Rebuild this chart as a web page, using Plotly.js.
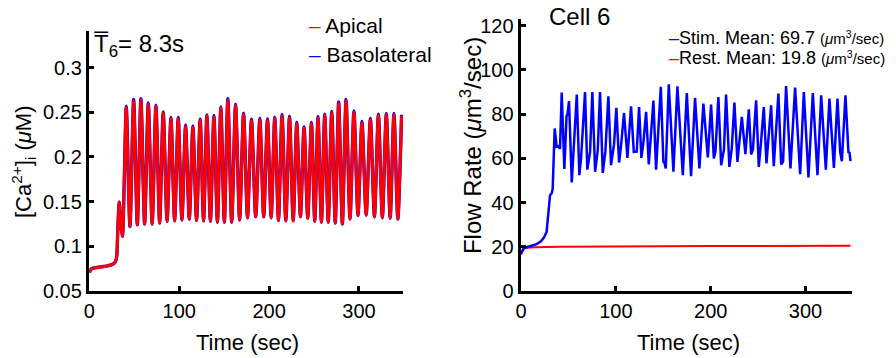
<!DOCTYPE html>
<html>
<head>
<meta charset="utf-8">
<script src="https://cdn.plot.ly/plotly-3.0.1.min.js"></script>
<style>html,body{margin:0;padding:0;background:#fff;}#chart{width:896px;height:358px;}</style>
</head>
<body>
<div id="chart"></div>
<script>
// ---------- Left panel: cytosolic Ca2+ (uM) ----------
var caStartTime = [0, 1.5, 4, 10, 20, 26, 29, 30.5, 31.7, 33.3, 35, 36.8, 38.8];
var caStartVal  = [0.0705, 0.074, 0.0755, 0.0765, 0.078, 0.080, 0.0825, 0.089, 0.12, 0.1495, 0.124, 0.111, 0.17];

var caPeakTime = [41.1, 49.3, 57.4, 65.6, 74.1, 82.2, 90.8, 98.9, 107.1, 115.2,
                  123.3, 130.8, 138.6, 146.3, 154.1, 162.7, 171.6, 180.4,
                  189.7, 198.2, 206.3, 214.4, 222.7, 230.8, 238.9, 247.1, 254.4, 261.9,
                  269.7, 277.4, 285.6, 294.4, 303.3, 312.7, 321.6, 330.4, 338.9, 347.4];
var apicalPeak = [0.2555, 0.263, 0.264, 0.2593, 0.2567, 0.2492, 0.2429, 0.2429, 0.2342, 0.2331,
                  0.241, 0.2458, 0.2451, 0.2548, 0.2638, 0.2578, 0.2477, 0.241,
                  0.2418, 0.2413, 0.2432, 0.2463, 0.2443, 0.2373, 0.2323, 0.2373, 0.244, 0.2466,
                  0.2496, 0.2604, 0.2631, 0.2503, 0.2384, 0.2418, 0.2466, 0.2474, 0.2474, 0.246];
var basoPeak   = [0.2568, 0.2643, 0.2653, 0.2606, 0.258, 0.2505, 0.2442, 0.2442, 0.2355, 0.2344,
                  0.2423, 0.2471, 0.2464, 0.2561, 0.2651, 0.2591, 0.249, 0.2423,
                  0.2431, 0.2426, 0.2445, 0.2476, 0.2456, 0.2386, 0.2336, 0.2386, 0.2453, 0.2479,
                  0.2509, 0.2617, 0.2644, 0.2516, 0.2397, 0.2431, 0.2479, 0.2487, 0.2487, 0.2473];
var caTroughTime = [45.2, 53.4, 61.5, 69.9, 78.2, 86.5, 94.9, 103.0, 111.2, 119.3,
                    127.1, 134.7, 142.5, 150.2, 158.4, 167.2, 176.0, 185.1, 194.0, 202.3,
                    210.4, 218.6, 226.8, 234.9, 243.0, 250.8, 258.2, 265.8, 273.6, 281.5,
                    290.0, 298.9, 308.0, 317.2, 326.0, 334.7, 343.2];
var caTroughVal  = [0.122, 0.124, 0.125, 0.125, 0.126, 0.128, 0.1285, 0.1295, 0.1305, 0.129,
                    0.1285, 0.128, 0.127, 0.127, 0.127, 0.1295, 0.132, 0.133, 0.133, 0.132,
                    0.129, 0.1285, 0.1285, 0.133, 0.1315, 0.128, 0.127, 0.127, 0.126, 0.125,
                    0.1305, 0.1345, 0.135, 0.133, 0.132, 0.1315, 0.1305];

// ---------- Right panel: flow rate (um^3/sec) ----------
var flowTime = [0, 2.5, 6, 10, 16.5, 21, 24, 27, 28.8, 30.6, 32.4, 33.4, 35.5, 37.6, 39.5, 41.1,
  42.9, 45.7, 48.0, 49.0, 50.6, 53.5, 58.8, 61.5, 63.3, 67.5, 69.9, 72.8, 75.2, 78.1, 80.9, 83.3,
  86.2, 88.9, 92.1, 94.9, 98.1, 100.5, 103.4, 105.5, 108.6, 112.2, 116.0, 118.9, 122.0, 124.5,
  126.9, 129.0, 131.9, 134.7, 139.6, 142.4, 147.4, 150.1, 151.3, 152.6, 155.8, 160.7, 164.9,
  170.6, 174.8, 179.3, 183.5, 188.1, 192.3, 197.0, 200.4, 203.3, 205.0, 208.1, 211.0, 214.0,
  216.2, 219.7, 222.2, 225.0, 228.2, 232.8, 236.6, 240.2, 242.6, 244.5, 247.9, 250.7, 253.0,
  256.0, 258.8, 263.7, 266.5, 271.4, 274.3, 276.3, 279.5, 284.1, 289.0, 294.3, 298.2, 303.1,
  307.7, 312.6, 316.5, 321.4, 325.2, 329.9, 333.7, 336.5, 338.3, 342.1, 345.3, 346.3, 347.4];
var stimFlow = [17.0, 19.1, 19.8, 20.4, 21.2, 22.5, 24.0, 26.8, 33.6, 43.3, 44.2, 46.4, 73.5, 65.2, 65.5, 64.2,
  89.7, 55.2, 79.0, 80.0, 85.9, 49.1, 88.8, 52.4, 60.0, 90.0, 54.9, 62.9, 90.0, 53.9, 63.7, 90.0,
  53.4, 62.9, 88.0, 56.9, 66.4, 82.8, 58.1, 65.9, 80.5, 60.2, 83.5, 62.9, 63.0, 83.2,
  60.2, 67.0, 81.0, 57.2, 86.1, 54.9, 92.3, 58.4, 58.0, 55.4, 93.5, 53.9, 92.6,
  52.4, 89.5, 51.9, 87.3, 55.4, 84.7, 60.4, 84.3, 59.9, 63.0, 87.7, 56.9, 64.0,
  88.8, 56.1, 64.4, 85.2, 58.4, 78.7, 61.9, 82.2, 61.7, 64.0, 86.2, 56.1, 67.0,
  83.2, 57.7, 84.0, 56.4, 89.3, 57.2, 58.5, 92.7, 55.4, 92.0, 52.8, 90.0, 51.3,
  89.5, 52.4, 88.5, 54.9, 87.0, 55.7, 87.0, 62.9, 58.7, 88.5, 62.4, 62.8, 58.7];
var restTime = [0, 1.5, 3, 6, 15, 40, 100, 200, 347.4];
var restFlow = [16.5, 18.3, 19.2, 19.6, 19.8, 20.0, 20.2, 20.35, 20.45];

// tick labels
var caTickVals = [0.05, 0.1, 0.15, 0.2, 0.25, 0.3];
var caTickText = ['0.05', '0.1', '0.15', '0.2', '0.25', '0.3'];
var flowTickVals = [0, 20, 40, 60, 80, 100, 120];
var flowTickText = ['0', '20', '40', '60', '80', '100', '120'];
var timeTickVals = [0, 100, 200, 300];
var timeTickText = ['0', '100', '200', '300'];

// build oscillation series from start segment + alternating peaks / troughs
function buildCa(peaks) {
  var x = caStartTime.slice(), y = caStartVal.slice();
  for (var i = 0; i < caPeakTime.length; i++) {
    x.push(caPeakTime[i]); y.push(peaks[i]);
    if (i < caTroughTime.length) { x.push(caTroughTime[i]); y.push(caTroughVal[i]); }
  }
  return {x: x, y: y};
}
var apical = buildCa(apicalPeak);
var baso = buildCa(basoPeak);

var FONT = 'Liberation Sans, Arial, Helvetica, sans-serif';

var traces = [
  {x: baso.x, y: baso.y, xaxis: 'x', yaxis: 'y', type: 'scatter', mode: 'lines', name: 'Basolateral',
   line: {color: '#0000ff', width: 3.4, shape: 'spline', smoothing: 0.7}, showlegend: false, hoverinfo: 'skip'},
  {x: apical.x, y: apical.y, xaxis: 'x', yaxis: 'y', type: 'scatter', mode: 'lines', name: 'Apical',
   line: {color: '#ff0000', width: 3, shape: 'spline', smoothing: 0.7}, showlegend: false, hoverinfo: 'skip'},
  {x: restTime, y: restFlow, xaxis: 'x2', yaxis: 'y2', type: 'scatter', mode: 'lines', name: 'Rest. Mean: 19.8',
   line: {color: '#ff0000', width: 2}, showlegend: false, hoverinfo: 'skip'},
  {x: flowTime, y: stimFlow, xaxis: 'x2', yaxis: 'y2', type: 'scatter', mode: 'lines', name: 'Stim. Mean: 69.7',
   line: {color: '#0000ff', width: 2.5}, showlegend: false, hoverinfo: 'skip'}
];

function xAx(domain, anchor) {
  return {domain: domain, anchor: anchor, range: [0, 349], tickmode: 'array', tickvals: timeTickVals, ticktext: timeTickText,
    ticks: 'inside', ticklen: 5, tickwidth: 3, tickcolor: '#000', showline: true, linewidth: 3.5, linecolor: '#000',
    showgrid: false, zeroline: false, tickfont: {family: FONT, size: 20, color: '#000'}, fixedrange: true};
}
function yAx(domain, anchor, range, vals, text) {
  return {domain: domain, anchor: anchor, range: range, tickmode: 'array', tickvals: vals, ticktext: text,
    ticks: 'inside', ticklen: 5, tickwidth: 3, tickcolor: '#000', showline: true, linewidth: 3.5, linecolor: '#000',
    showgrid: false, zeroline: false, tickfont: {family: FONT, size: 20, color: '#000'}, fixedrange: true};
}

function ann(x, y, text, size, opts) {
  var a = {xref: 'paper', yref: 'paper', x: x, y: y, text: text, showarrow: false,
           xanchor: 'center', yanchor: 'middle', font: {family: FONT, size: size, color: '#000'}};
  for (var k in (opts || {})) a[k] = opts[k];
  return a;
}

var layout = {
  width: 896, height: 358,
  margin: {l: 0, r: 0, t: 0, b: 0},
  paper_bgcolor: '#fff', plot_bgcolor: '#fff',
  showlegend: false,
  font: {family: FONT, color: '#000'},
  xaxis: xAx([0.0997, 0.4498], 'y'),
  yaxis: yAx([0.1872, 0.9134], 'x', [0.05, 0.341], caTickVals, caTickText),
  xaxis2: xAx([0.5815, 0.9509], 'y2'),
  yaxis2: yAx([0.1872, 0.9469], 'x2', [0, 123], flowTickVals, flowTickText),
  annotations: [
    ann(0.0268, 0.5475, '[Ca<sup>2+</sup>]<sub>i</sub> (<i>μ</i>M)', 22, {textangle: -90}),
    ann(0.5257, 0.592, 'Flow Rate (<i>μ</i>m<sup>3</sup>/sec)', 24, {textangle: -90}),
    ann(0.2757, 0.0419, 'Time (sec)', 22),
    ann(0.7679, 0.0419, 'Time (sec)', 22),
    ann(0.1027, 0.874, 'T\u0305<sub>6</sub>= 8.3s', 24, {xanchor: 'left'}),
    ann(0.6105, 0.955, 'Cell 6', 24, {xanchor: 'left'}),
    ann(0.3426, 0.930, '<span style="color:#ff0000">–</span> Apical', 21, {xanchor: 'left'}),
    ann(0.3426, 0.8464, '<span style="color:#0000ff">–</span> Basolateral', 21, {xanchor: 'left'}),
    ann(0.7444, 0.8939, '<span style="color:#0000ff">–</span>Stim. Mean: 69.7 <span style="font-size:15px">(<i>μ</i>m<sup>3</sup>/sec)</span>', 18, {xanchor: 'left'}),
    ann(0.7444, 0.838, '<span style="color:#ff0000">–</span>Rest. Mean: 19.8 <span style="font-size:15px">(<i>μ</i>m<sup>3</sup>/sec)</span>', 18, {xanchor: 'left'})
  ]
};

Plotly.newPlot('chart', traces, layout, {staticPlot: true, displayModeBar: false});
</script>
</body>
</html>
